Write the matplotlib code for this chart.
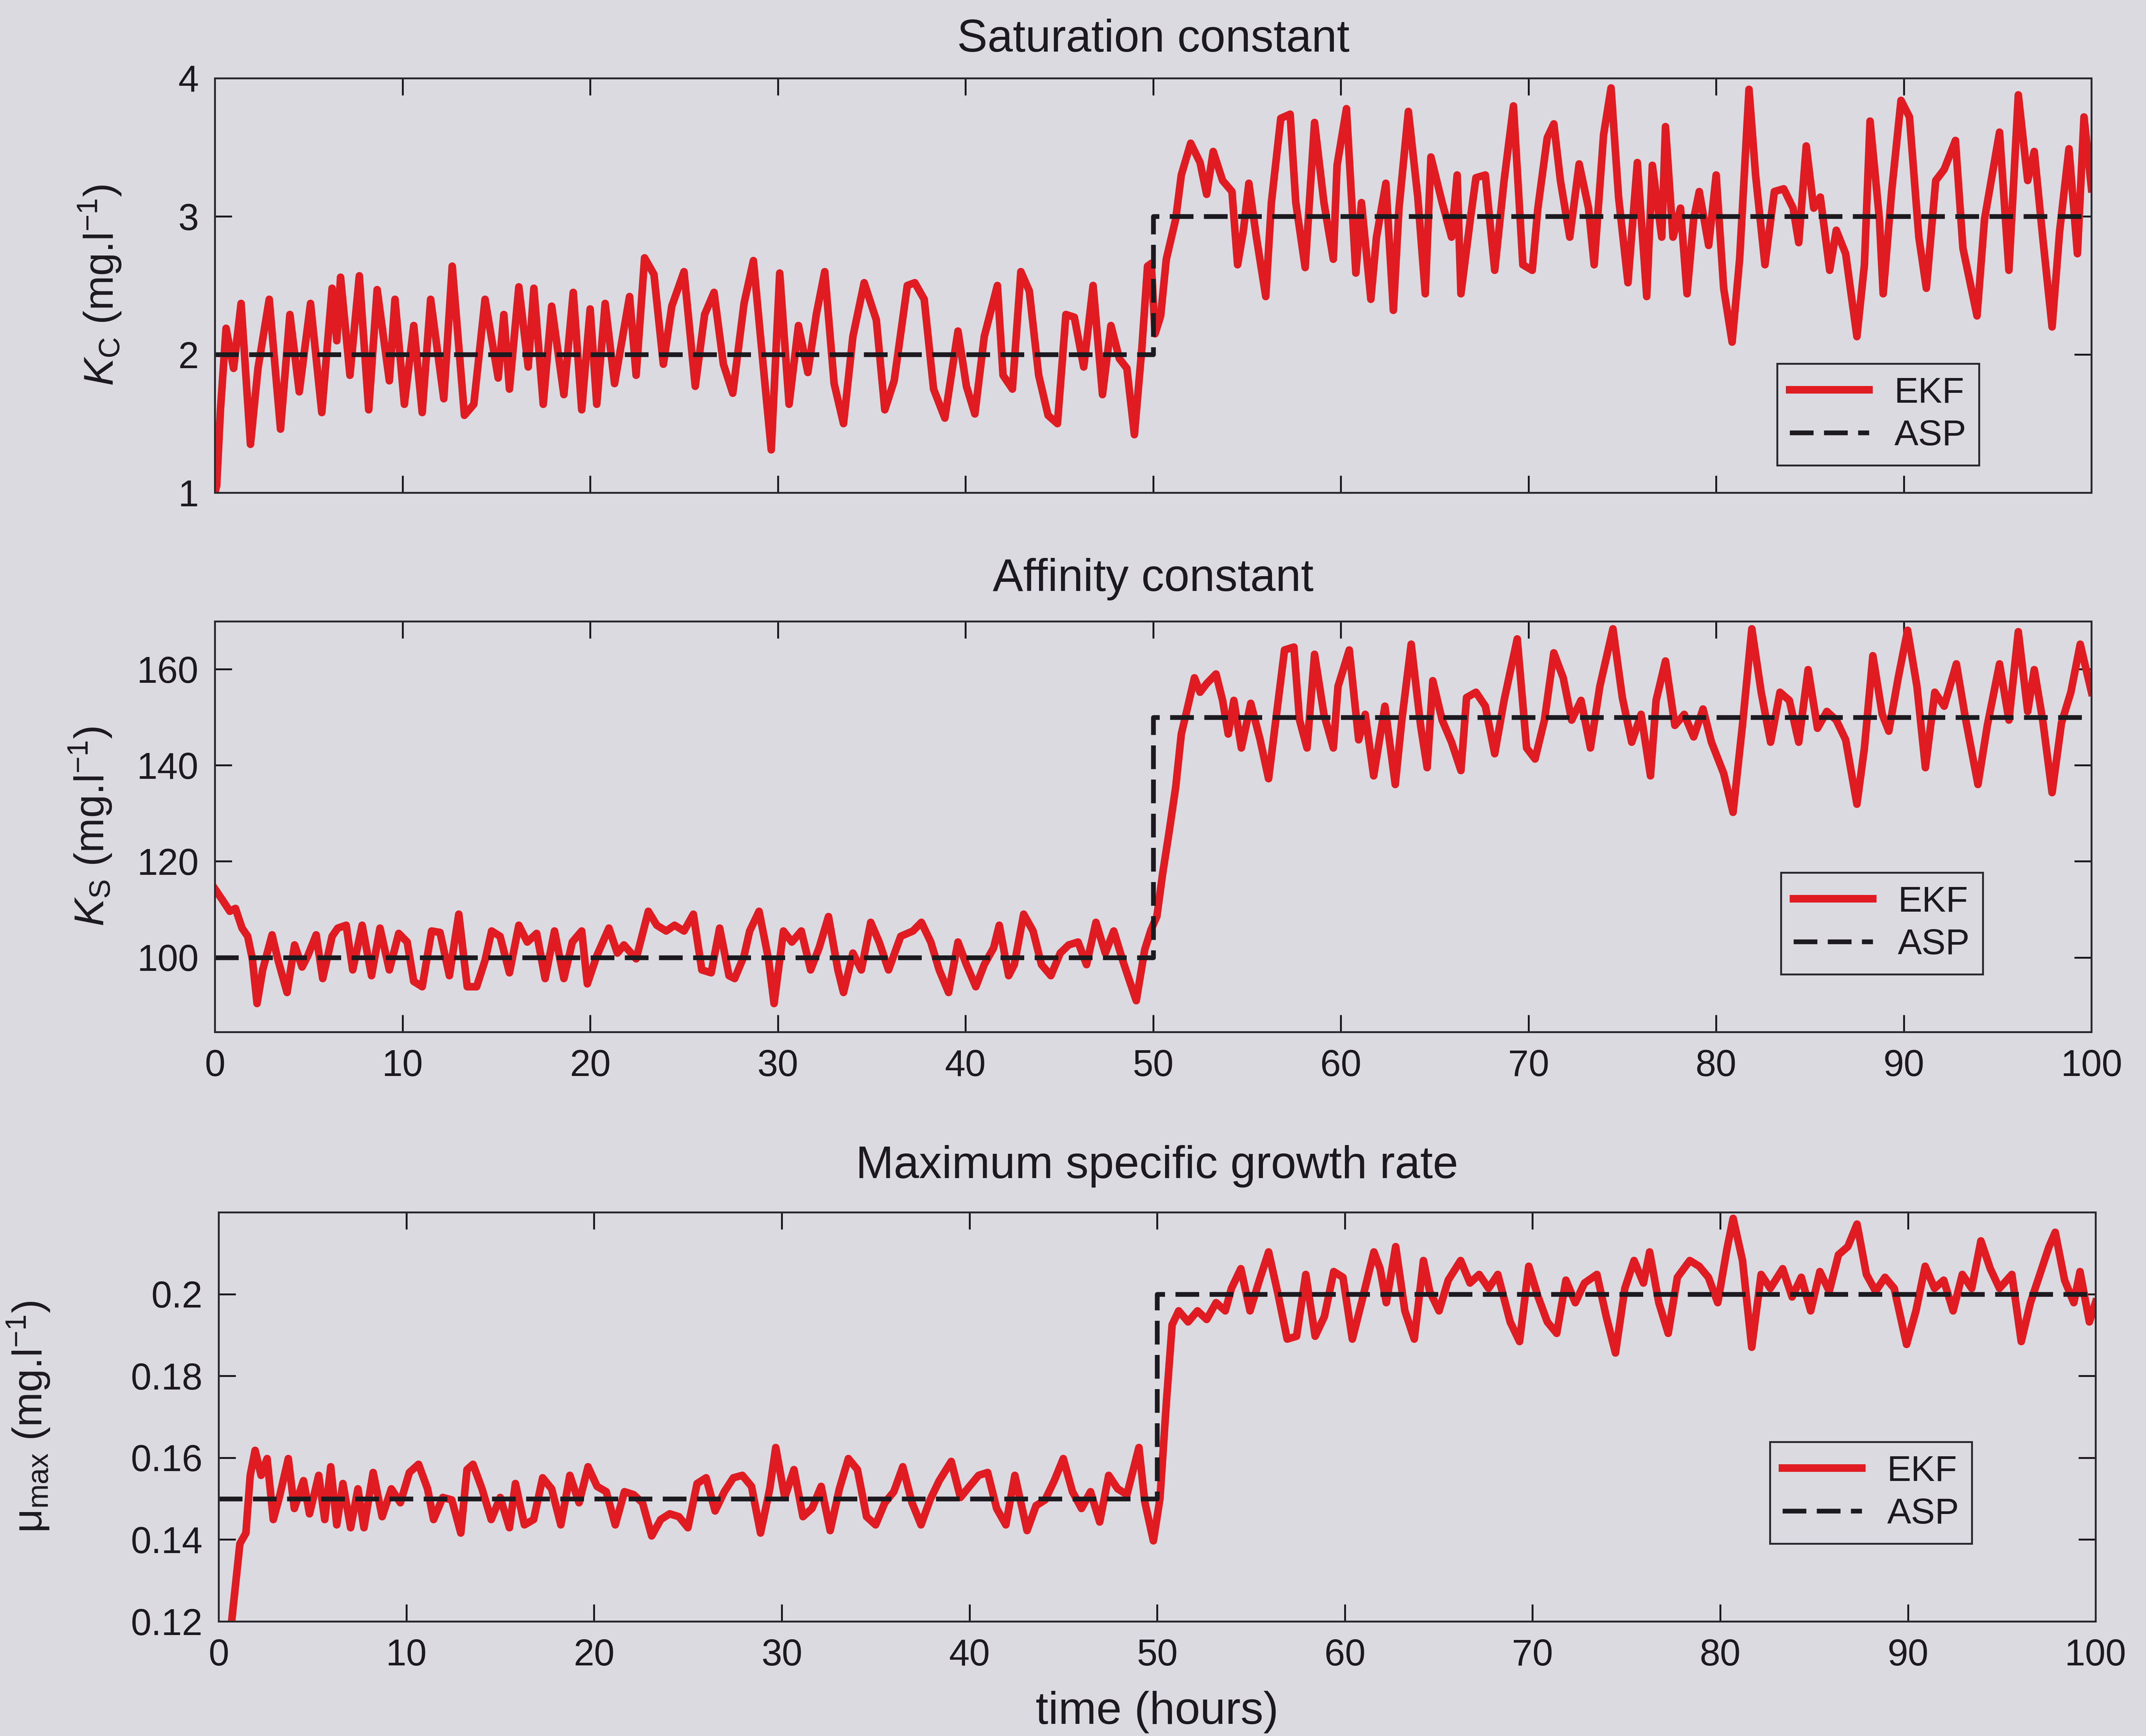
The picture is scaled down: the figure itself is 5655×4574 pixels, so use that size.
import numpy as np
import matplotlib
matplotlib.use("Agg")
import matplotlib.pyplot as plt

# ── fonts ─────────────────────────────────────────────────────────────────────
plt.rcParams['font.family'] = ['Liberation Sans', 'DejaVu Sans']
plt.rcParams['mathtext.fontset'] = 'custom'
plt.rcParams['mathtext.rm'] = 'Liberation Sans'
plt.rcParams['mathtext.it'] = 'Liberation Sans:italic'

# ── saturation constant K_C ───────────────────────────────────────────────────
kc_time = [
    0, 0.1, 0.3, 0.6, 1.0, 1.4, 1.9, 2.3, 2.9, 3.5,
    4.0, 4.5, 5.1, 5.7, 6.25, 6.5, 6.7, 7.2, 7.7, 8.2,
    8.65, 9.3, 9.6, 10.1, 10.6, 11.05, 11.5, 12.2, 12.65, 13.3,
    13.8, 14.4, 15.1, 15.4, 15.7, 16.2, 16.7, 17.0, 17.5, 17.95,
    18.6, 19.1, 19.55, 20.0, 20.35, 20.8, 21.3, 22.1, 22.45, 22.9,
    23.4, 23.9, 24.35, 25.0, 25.6, 26.1, 26.6, 27.1, 27.6, 28.2,
    28.7, 29.2, 29.65, 30.1, 30.6, 31.1, 31.6, 32.05, 32.5, 33.0,
    33.5, 34.0, 34.6, 35.25, 35.7, 36.2, 36.9, 37.3, 37.8, 38.3,
    38.9, 39.6, 40.05, 40.5, 41.0, 41.7, 42.0, 42.5, 42.95, 43.4,
    43.9, 44.4, 44.9, 45.35, 45.8, 46.3, 46.8, 47.3, 47.75, 48.2,
    48.6, 49.0, 49.4, 49.7, 49.9, 50.1, 50.4, 50.7, 51.2, 51.5,
    52.0, 52.5, 52.85, 53.2, 53.7, 54.2, 54.5, 54.8, 55.1, 55.5,
    56.0, 56.3, 56.8, 57.3, 57.6, 58.1, 58.6, 59.1, 59.6, 59.8,
    60.3, 60.8, 61.1, 61.6, 61.9, 62.4, 62.8, 63.1, 63.6, 64.1,
    64.5, 64.8, 65.4, 65.9, 66.2, 66.4, 66.9, 67.2, 67.7, 68.2,
    68.7, 69.2, 69.7, 70.2, 70.5, 71.0, 71.35, 71.7, 72.2, 72.7,
    73.2, 73.5, 74.0, 74.4, 74.8, 75.3, 75.8, 76.3, 76.6, 77.1,
    77.3, 77.7, 78.1, 78.45, 78.8, 79.1, 79.6, 80.0, 80.4, 80.85,
    81.25, 81.75, 82.1, 82.6, 83.1, 83.6, 84.1, 84.4, 84.8, 85.2,
    85.55, 86.05, 86.4, 86.9, 87.5, 87.9, 88.2, 88.7, 88.9, 89.35,
    89.85, 90.3, 90.8, 91.2, 91.7, 92.15, 92.75, 93.15, 93.9, 94.3,
    95.1, 95.6, 96.1, 96.6, 96.95, 97.4, 97.9, 98.3, 98.8, 99.25,
    99.6, 100.0,
]
kc_ekf = [
    1.0, 1.05, 1.6, 2.19, 1.9, 2.37, 1.35, 1.9, 2.40, 1.46,
    2.29, 1.73, 2.37, 1.58, 2.48, 2.1, 2.56, 1.85, 2.57, 1.60,
    2.47, 1.81, 2.40, 1.64, 2.21, 1.58, 2.40, 1.68, 2.64, 1.56,
    1.64, 2.40, 1.83, 2.29, 1.75, 2.49, 1.91, 2.48, 1.64, 2.35,
    1.71, 2.45, 1.60, 2.33, 1.64, 2.37, 1.79, 2.42, 1.85, 2.70,
    2.58, 1.93, 2.35, 2.60, 1.77, 2.29, 2.45, 1.93, 1.72, 2.37,
    2.68, 1.95, 1.31, 2.59, 1.64, 2.21, 1.87, 2.29, 2.60, 1.79,
    1.50, 2.13, 2.52, 2.25, 1.60, 1.81, 2.50, 2.52, 2.40, 1.75,
    1.54, 2.17, 1.77, 1.57, 2.13, 2.50, 1.85, 1.75, 2.60, 2.46,
    1.85, 1.56, 1.50, 2.29, 2.27, 1.91, 2.50, 1.71, 2.21, 1.97,
    1.90, 1.42, 2.05, 2.64, 2.66, 2.15, 2.28, 2.69, 2.98, 3.30,
    3.53, 3.39, 3.16, 3.47, 3.26, 3.18, 2.65, 2.89, 3.24, 2.85,
    2.42, 3.10, 3.71, 3.74, 3.10, 2.63, 3.68, 3.10, 2.69, 3.37,
    3.78, 2.59, 3.10, 2.40, 2.85, 3.24, 2.32, 3.06, 3.76, 3.14,
    2.44, 3.43, 3.10, 2.85, 3.30, 2.44, 2.98, 3.28, 3.30, 2.61,
    3.26, 3.80, 2.65, 2.61, 3.06, 3.57, 3.67, 3.26, 2.85, 3.38,
    3.06, 2.65, 3.59, 3.93, 3.14, 2.52, 3.39, 2.42, 3.37, 2.85,
    3.65, 2.85, 3.06, 2.44, 2.98, 3.18, 2.79, 3.30, 2.48, 2.09,
    2.69, 3.92, 3.30, 2.65, 3.18, 3.20, 3.06, 2.81, 3.51, 3.06,
    3.14, 2.61, 2.90, 2.73, 2.13, 2.65, 3.69, 2.98, 2.44, 3.18,
    3.84, 3.72, 2.85, 2.48, 3.26, 3.34, 3.55, 2.77, 2.28, 2.98,
    3.61, 2.61, 3.88, 3.26, 3.47, 2.85, 2.20, 2.89, 3.49, 2.73,
    3.72, 3.20,
]

# ── affinity constant K_S ─────────────────────────────────────────────────────
ks_time = [
    0, 0.5, 0.8, 1.1, 1.45, 1.75, 2.0, 2.25, 2.55, 3.05,
    3.35, 3.85, 4.25, 4.65, 4.95, 5.4, 5.75, 6.25, 6.55, 7.0,
    7.35, 7.85, 8.35, 8.8, 9.3, 9.8, 10.25, 10.6, 11.05, 11.55,
    12.0, 12.5, 13.0, 13.45, 13.95, 14.4, 14.75, 15.2, 15.7, 16.2,
    16.65, 17.15, 17.6, 18.1, 18.6, 19.05, 19.55, 19.85, 20.35, 21.0,
    21.45, 21.8, 22.45, 23.1, 23.55, 24.05, 24.5, 25.0, 25.5, 25.95,
    26.45, 26.9, 27.4, 27.7, 28.2, 28.5, 29.0, 29.5, 29.8, 30.3,
    30.75, 31.25, 31.75, 32.2, 32.7, 33.2, 33.5, 34.0, 34.45, 34.95,
    35.4, 35.9, 36.55, 37.2, 37.65, 38.15, 38.6, 39.1, 39.6, 40.05,
    40.55, 41.0, 41.5, 41.8, 42.3, 42.6, 43.1, 43.6, 44.05, 44.55,
    45.05, 45.5, 46.0, 46.45, 46.95, 47.45, 47.9, 48.4, 48.7, 49.1,
    49.55, 49.88, 50.2, 50.5, 50.85, 51.2, 51.5, 51.85, 52.2, 52.5,
    52.85, 53.35, 53.7, 54.0, 54.3, 54.7, 55.2, 55.7, 56.15, 56.5,
    57.0, 57.5, 57.8, 58.2, 58.6, 59.1, 59.6, 59.85, 60.45, 60.95,
    61.3, 61.75, 62.35, 62.9, 63.25, 63.75, 64.25, 64.6, 64.9, 65.4,
    65.9, 66.4, 66.7, 67.2, 67.7, 68.2, 68.7, 69.4, 69.9, 70.35,
    70.85, 71.35, 71.85, 72.3, 72.8, 73.3, 73.8, 74.5, 75.0, 75.5,
    76.0, 76.5, 76.8, 77.3, 77.8, 78.3, 78.8, 79.3, 79.75, 80.4,
    80.9, 81.4, 81.9, 82.4, 82.9, 83.4, 83.9, 84.4, 84.9, 85.4,
    85.9, 86.4, 86.9, 87.5, 87.9, 88.35, 88.85, 89.2, 89.7, 90.2,
    90.7, 91.15, 91.65, 92.15, 92.8, 93.3, 93.95, 94.45, 95.1, 95.6,
    96.1, 96.6, 96.95, 97.4, 97.9, 98.4, 98.9, 99.4, 100.0,
]
ks_ekf = [
    114.3, 111.4, 109.6, 110.2, 106.1, 104.4, 99.7, 90.4, 97.4, 104.7,
    99.7, 92.7, 102.6, 98.0, 100.3, 104.7, 95.6, 104.4, 106.1, 106.7,
    97.4, 106.7, 96.2, 106.1, 97.4, 105.0, 103.2, 95.0, 93.9, 105.5,
    105.2, 96.2, 109.0, 93.9, 93.9, 99.4, 105.5, 104.4, 96.8, 106.7,
    103.2, 105.0, 95.6, 105.5, 95.6, 103.2, 105.5, 94.5, 100.3, 106.1,
    100.9, 102.6, 99.7, 109.6, 106.7, 105.5, 106.7, 105.5, 109.0, 97.4,
    96.8, 106.1, 96.2, 95.6, 100.3, 105.5, 109.6, 99.7, 90.4, 105.5,
    103.2, 105.5, 97.4, 102.0, 108.5, 97.4, 92.7, 100.9, 97.4, 107.3,
    103.2, 97.4, 104.4, 105.5, 107.3, 103.2, 97.4, 92.7, 103.2, 98.5,
    93.9, 98.5, 102.0, 106.7, 96.2, 98.5, 109.0, 105.5, 98.5, 96.2,
    100.9, 102.6, 103.2, 98.5, 107.3, 100.9, 105.5, 99.1, 95.6, 91.0,
    101.6, 105.7, 108.6, 117.3, 126.1, 135.4, 146.5, 152.3, 158.2, 155.2,
    157.0, 159.0, 153.5, 146.5, 153.5, 143.6, 152.9, 145.3, 137.2, 148.3,
    164.0, 164.6, 149.4, 143.6, 163.1, 150.6, 143.6, 156.4, 164.0, 145.3,
    150.6, 137.8, 152.3, 136.0, 149.4, 165.2, 148.3, 139.5, 157.6, 149.4,
    144.8, 138.9, 154.1, 155.2, 152.3, 142.4, 153.5, 166.3, 143.6, 141.3,
    149.4, 163.4, 158.2, 149.4, 153.5, 143.6, 156.4, 168.4, 154.1, 144.8,
    150.6, 137.8, 153.5, 161.7, 148.3, 150.6, 145.9, 151.7, 144.8, 138.3,
    130.2, 148.3, 168.4, 155.2, 144.8, 155.2, 153.5, 144.8, 159.9, 147.7,
    151.2, 149.4, 145.3, 131.9, 143.6, 162.8, 150.6, 147.1, 158.2, 168.1,
    156.4, 139.5, 155.2, 152.3, 161.1, 149.4, 136.0, 148.3, 161.1, 149.4,
    167.8, 151.2, 159.9, 149.4, 134.3, 148.8, 155.2, 165.2, 155.2,
]

# ── maximum specific growth rate mu_max ───────────────────────────────────────
mu_time = [
    0, 0.69, 1.13, 1.45, 1.68, 1.94, 2.26, 2.58, 2.91, 3.23,
    3.71, 4.03, 4.52, 4.84, 5.33, 5.65, 5.97, 6.29, 6.62, 7.03,
    7.42, 7.74, 8.23, 8.71, 9.2, 9.68, 10.16, 10.65, 11.13, 11.45,
    11.94, 12.42, 12.9, 13.23, 13.55, 14.03, 14.52, 15.0, 15.49, 15.81,
    16.29, 16.78, 17.26, 17.74, 18.23, 18.71, 19.2, 19.68, 20.16, 20.65,
    21.13, 21.62, 22.1, 22.58, 23.07, 23.55, 24.03, 24.52, 25.0, 25.49,
    25.97, 26.45, 26.94, 27.42, 27.9, 28.39, 28.87, 29.36, 29.68, 30.16,
    30.65, 31.13, 31.61, 32.1, 32.58, 33.07, 33.55, 34.03, 34.52, 35.0,
    35.49, 35.97, 36.45, 36.94, 37.42, 37.9, 38.39, 39.03, 39.52, 40.0,
    40.49, 40.97, 41.45, 41.94, 42.42, 43.07, 43.55, 44.03, 44.52, 45.0,
    45.49, 45.97, 46.45, 46.94, 47.42, 47.9, 48.39, 49.03, 49.34, 49.8,
    50.15, 50.5, 50.8, 51.15, 51.65, 52.15, 52.64, 53.14, 53.63, 53.96,
    54.46, 54.95, 55.45, 55.94, 56.44, 56.93, 57.43, 57.92, 58.42, 58.91,
    59.41, 59.9, 60.4, 60.89, 61.55, 61.88, 62.21, 62.71, 63.2, 63.7,
    64.19, 64.52, 65.02, 65.51, 66.17, 66.67, 67.16, 67.66, 68.15, 68.81,
    69.31, 69.8, 70.3, 70.79, 71.29, 71.78, 72.28, 72.77, 73.43, 73.93,
    74.42, 74.92, 75.41, 75.91, 76.24, 76.73, 77.23, 77.72, 78.38, 78.88,
    79.37, 79.87, 80.36, 80.69, 81.19, 81.68, 82.18, 82.67, 83.33, 83.83,
    84.32, 84.82, 85.31, 85.81, 86.3, 86.8, 87.29, 87.79, 88.28, 88.78,
    89.27, 89.93, 90.43, 90.92, 91.42, 91.91, 92.41, 92.9, 93.4, 93.89,
    94.39, 94.88, 95.54, 96.04, 96.53, 97.03, 97.52, 97.85, 98.35, 98.84,
    99.17, 99.67, 100.0,
]
mu_ekf = [
    0.095, 0.12, 0.139, 0.1416, 0.1557, 0.1618, 0.1557, 0.1598, 0.1449, 0.1503,
    0.1598, 0.1476, 0.1544, 0.1463, 0.1557, 0.1449, 0.1578, 0.1436, 0.1537, 0.1429,
    0.1524, 0.1429, 0.1564, 0.1456, 0.1524, 0.149, 0.1564, 0.1584, 0.1524, 0.1449,
    0.1503, 0.1497, 0.1416, 0.1571, 0.1584, 0.1524, 0.1449, 0.1503, 0.1429, 0.1537,
    0.1436, 0.1449, 0.1551, 0.1524, 0.1436, 0.1557, 0.149, 0.1578, 0.153, 0.1517,
    0.1436, 0.1517, 0.151, 0.149, 0.1409, 0.1449, 0.1463, 0.1456, 0.1429, 0.1537,
    0.1551, 0.147, 0.1517, 0.1551, 0.1557, 0.153, 0.1416, 0.1524, 0.1625, 0.1503,
    0.1571, 0.1456, 0.1476, 0.153, 0.1422, 0.1524, 0.1598, 0.1571, 0.1456, 0.1436,
    0.149, 0.1517, 0.1578, 0.149, 0.1436, 0.1497, 0.1544, 0.1591, 0.1503, 0.153,
    0.1557, 0.1564, 0.1476, 0.1436, 0.1557, 0.1422, 0.1483, 0.1497, 0.1544, 0.1598,
    0.1517, 0.1476, 0.1517, 0.1443, 0.1557, 0.1524, 0.151, 0.1625, 0.1493, 0.1397,
    0.15, 0.174, 0.1925, 0.1959, 0.1932, 0.1959, 0.1938, 0.1979, 0.1959, 0.2014,
    0.2062, 0.1959, 0.2034, 0.2103, 0.2, 0.189, 0.1897, 0.2048, 0.1897, 0.1945,
    0.2055, 0.2041, 0.189, 0.1979, 0.2103, 0.2062, 0.1979, 0.2116, 0.1959, 0.189,
    0.2082, 0.2007, 0.1959, 0.2034, 0.2082, 0.2027, 0.2048, 0.2014, 0.2048, 0.1932,
    0.1884, 0.2068, 0.1993, 0.1932, 0.1904, 0.2034, 0.1979, 0.2027, 0.2048, 0.1945,
    0.1856, 0.2014, 0.2082, 0.2027, 0.2103, 0.1979, 0.1904, 0.2041, 0.2082, 0.2068,
    0.2041, 0.1979, 0.211, 0.2185, 0.2082, 0.187, 0.2048, 0.2014, 0.2062, 0.1993,
    0.2041, 0.1959, 0.2055, 0.2007, 0.2096, 0.2116, 0.2171, 0.2048, 0.2007, 0.2041,
    0.2014, 0.1877, 0.1959, 0.2068, 0.2014, 0.2034, 0.1959, 0.2048, 0.2014, 0.213,
    0.2062, 0.2014, 0.2048, 0.1884, 0.1979, 0.2048, 0.2116, 0.2151, 0.2034, 0.1979,
    0.2055, 0.1932, 0.198,
]

# ── ASP reference: step change at t = 50 h ────────────────────────────────────
asp_time = [0, 50, 50, 100]
kc_asp = [2, 2, 3, 3]
ks_asp = [100, 100, 150, 150]
mu_asp = [0.15, 0.15, 0.2, 0.2]

hours_ticks = list(range(0, 101, 10))

bg = '#dcdae1'
red = '#e01c22'
ink = '#1c1a1e'

fig = plt.figure(figsize=(5655 / 360, 4574 / 360), dpi=360, facecolor=bg)

panels = [
    # title, time, ekf, asp, ylim, yticks, ylabel, rect, legend anchor,
    # x tick labels shown, ylabel x (axes coords), title pad
    ("Saturation constant", kc_time, kc_ekf, kc_asp, (1, 4), [1, 2, 3, 4],
     r'$\mathit{K}_{\mathrm{C}}$ (mg.l$^{\mathrm{-1}}$)',
     [0.1001, 0.7162, 0.8745, 0.2387], (0.94, 0.066), False, -0.049, 14),
    ("Affinity constant", ks_time, ks_ekf, ks_asp, (84.5, 170), [100, 120, 140, 160],
     r'$\mathit{K}_{\mathrm{S}}$ (mg.l$^{\mathrm{-1}}$)',
     [0.1001, 0.4056, 0.8745, 0.2366], (0.942, 0.14), True, -0.054, 16),
    ("Maximum specific growth rate", mu_time, mu_ekf, mu_asp, (0.12, 0.22),
     [0.12, 0.14, 0.16, 0.18, 0.2],
     'μ$_{\\mathrm{max}}$ (mg.l$^{\\mathrm{-1}}$)',
     [0.1019, 0.0660, 0.8746, 0.2357], (0.934, 0.19), True, -0.089, 18),
]

for title, t, ekf, asp, ylim, yticks, ylabel, rect, anchor, xlab, ylab_x, tpad in panels:
    ax = fig.add_axes(rect)
    ax.set_facecolor(bg)
    ax.plot(t, ekf, color=red, lw=4.0, solid_joinstyle='round', label='EKF')
    ax.plot(asp_time, asp, color=ink, lw=2.5, ls=(0, (5, 2.2)), label='ASP')

    ax.set_xlim(0, 100)
    ax.set_ylim(*ylim)
    ax.set_xticks(hours_ticks)
    ax.set_yticks(yticks)
    ax.set_yticklabels([f"{v:g}" for v in yticks])
    ax.tick_params(direction='in', length=9, width=1.0, top=True, right=True,
                   labelsize=19.5, colors=ink)
    ax.tick_params(axis='x', pad=9, labelbottom=xlab)
    ax.tick_params(axis='y', pad=8.5)
    for sp in ax.spines.values():
        sp.set_linewidth(1.0)
        sp.set_color('#2a2a2e')

    ax.set_title(title, fontsize=24, color=ink, pad=tpad)
    ax.set_ylabel(ylabel, fontsize=22, color=ink)
    ax.yaxis.set_label_coords(ylab_x, 0.5)

    leg = ax.legend(loc='lower right', bbox_to_anchor=anchor, borderaxespad=0,
                    fontsize=19, frameon=True, fancybox=False, framealpha=1,
                    facecolor=bg, edgecolor='#2a2a2e', handlelength=2.2,
                    handletextpad=0.7, labelspacing=0.25, borderpad=0.35)
    leg.get_frame().set_linewidth(1.0)
    for txt in leg.get_texts():
        txt.set_color(ink)

ax.set_xlabel('time (hours)', fontsize=24, color=ink)
ax.xaxis.set_label_coords(0.5, -0.17)

fig.savefig('out.png', dpi=360, facecolor=bg)
